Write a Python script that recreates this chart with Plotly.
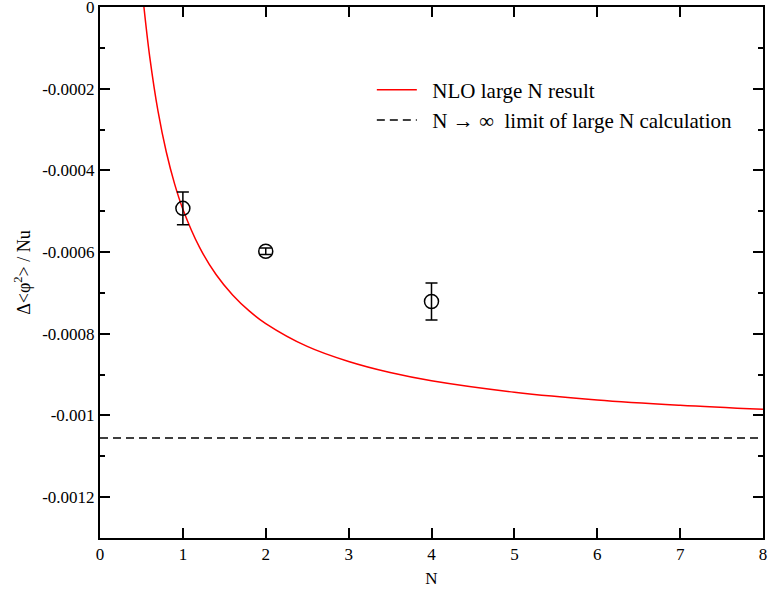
import plotly.graph_objects as go

# NLO large-N curve
curve_N = [0.53, 0.6, 0.7, 0.8, 0.9, 1.0, 1.2, 1.4, 1.6, 1.8, 2.0, 2.5, 3.0, 3.5, 4.0, 5.0, 6.0, 7.0, 8.0]
curve_y = [0.0, -0.000122, -0.000255, -0.000355, -0.000433, -0.000495, -0.000588, -0.000655,
           -0.000705, -0.000744, -0.000775, -0.000831, -0.000868, -0.000895, -0.000915,
           -0.000943, -0.000962, -0.000975, -0.000985]

# Lattice data points
pts_N = [1, 2, 4]
pts_y = [-0.000493, -0.000598, -0.000721]
pts_err = [0.00004, 0.000008, 0.000045]

# N -> infinity limit
limit_N = [0, 8]
limit_y = [-0.001055, -0.001055]

ytick_vals = [0, -0.0002, -0.0004, -0.0006, -0.0008, -0.001, -0.0012]
ytick_text = ["0", "-0.0002", "-0.0004", "-0.0006", "-0.0008", "-0.001", "-0.0012"]
xtick_vals = [0, 1, 2, 3, 4, 5, 6, 7, 8]
xtick_text = ["0", "1", "2", "3", "4", "5", "6", "7", "8"]

FONT = "Liberation Serif, Times New Roman, serif"
SP = "\u00a0\u00a0"
TICK_PX = 17

fig = go.Figure()
fig.add_trace(go.Scatter(x=curve_N, y=curve_y, mode="lines", line=dict(color="#ff0000", width=1.5, shape="spline"),
                         name=SP + "NLO large N result"))
fig.add_trace(go.Scatter(x=limit_N, y=limit_y, mode="lines", line=dict(color="black", width=1.5, dash="8px,5px"),
                         name=SP + "N \u2192 \u221e  limit of large N calculation"))
fig.add_trace(go.Scatter(x=pts_N, y=pts_y, mode="markers",
                         marker=dict(symbol="circle-open", size=14, color="black", line=dict(width=1.5)),
                         error_y=dict(type="data", array=pts_err, color="black", thickness=1.5, width=6),
                         showlegend=False))

fig.update_layout(
    template="none",
    width=768, height=592, margin=dict(l=100, r=5, t=7, b=54, autoexpand=False),
    plot_bgcolor="white", paper_bgcolor="white",
    font=dict(family=FONT, color="black", size=17),
    legend=dict(x=0.41, y=0.882, xanchor="left", yanchor="top", bgcolor="rgba(0,0,0,0)",
                font=dict(family=FONT, size=21, color="black"), tracegroupgap=0, itemwidth=40),
    xaxis=dict(range=[0, 8], tickmode="array", tickvals=xtick_vals, ticktext=xtick_text,
               showline=True, linecolor="black", linewidth=2,
               mirror="allticks", ticks="inside", tickcolor="black", tickwidth=1.5, ticklen=10,
               showgrid=False, zeroline=False, ticklabeloverflow="allow",
               tickfont=dict(family=FONT, size=TICK_PX, color="black"),
               title=dict(text="N", font=dict(family=FONT, size=17, color="black"), standoff=9)),
    yaxis=dict(range=[-0.0013, 0], tickmode="array", tickvals=ytick_vals, ticktext=ytick_text,
               showline=True, linecolor="black", linewidth=2, mirror="allticks", ticks="inside",
               tickcolor="black", tickwidth=1.5, ticklen=10, showgrid=False, zeroline=False,
               ticklabeloverflow="allow",
               minor=dict(dtick=0.0001, ticks="inside", ticklen=5, tickcolor="black", tickwidth=1.5),
               tickfont=dict(family=FONT, size=TICK_PX, color="black"),
               title=dict(text="\u0394<\u03c6<sup>2</sup>> / Nu", font=dict(family=FONT, size=18, color="black"),
                          standoff=7)),
)

fig.write_html("out.html")
